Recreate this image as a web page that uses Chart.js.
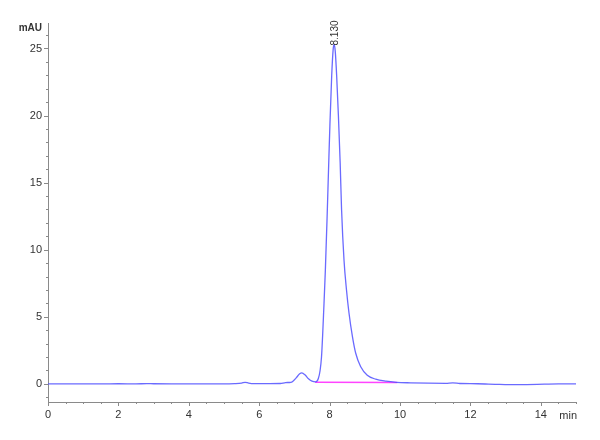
<!DOCTYPE html>
<html>
<head>
<meta charset="utf-8">
<script src="https://cdn.jsdelivr.net/npm/chart.js@4.4.0/dist/chart.umd.min.js"></script>
<style>
html,body{margin:0;padding:0;background:#fff;}
#wrap{width:600px;height:440px;position:relative;}
</style>
</head>
<body>
<div id="wrap"><canvas id="c" width="600" height="440"></canvas></div>
<script>
// ---- data ----
const times = [0, 0.5, 1, 1.5, 2, 2.5, 2.8, 3, 3.5, 4, 4.5, 5, 5.3, 5.5, 5.6, 5.7, 5.85, 6.0, 6.3, 6.6, 6.75, 6.9, 6.95, 7.05, 7.15, 7.21, 7.30, 7.40, 7.50, 7.61, 7.68, 7.73, 7.77, 7.80, 7.83, 7.88, 7.93, 7.97, 8.01, 8.06, 8.10, 8.13, 8.16, 8.20, 8.25, 8.30, 8.34, 8.41, 8.48, 8.55, 8.65, 8.74, 8.88, 9.07, 9.31, 9.6, 9.9, 10.3, 10.8, 11.3, 11.5, 11.7, 12.2, 12.7, 13.1, 13.6, 14.1, 14.5, 15];
const signal = [0, 0, 0, 0, 0.01, 0, 0.02, 0.01, 0, 0, 0, 0, 0.02, 0.06, 0.12, 0.06, 0.02, 0.02, 0.02, 0.03, 0.1, 0.12, 0.18, 0.45, 0.75, 0.82, 0.68, 0.38, 0.2, 0.15, 0.4, 1.0, 2.0, 3.5, 5.3, 8.5, 12.5, 16.0, 19.4, 23.0, 24.9, 25.3, 24.8, 23.0, 20.0, 16.5, 13.0, 9.2, 7.0, 5.3, 3.5, 2.3, 1.3, 0.65, 0.35, 0.2, 0.12, 0.08, 0.05, 0.04, 0.07, 0.03, 0.01, -0.03, -0.06, -0.05, -0.02, 0, 0];
const baselineTimes = [7.59, 9.92];
const baselineValues = [0.12, 0.1];
const peakTimes = [8.13];
const peakValues = [25.3];
const peakLabels = ['8.130'];
const xTickLabels = ['0', '2', '4', '6', '8', '10', '12', '14'];
const yTickLabels = ['0', '5', '10', '15', '20', '25'];
const yUnit = 'mAU';
const xUnit = 'min';

const FONT = "'Liberation Sans Narrow', 'Liberation Sans', Arial, sans-serif";
const AXIS = '#8a8a8a';
const TXT = '#333';

const mainData = times.map((t, i) => ({x: t, y: signal[i]}));
const baseData = baselineTimes.map((t, i) => ({x: t, y: baselineValues[i]}));

const decor = {
  id: 'decor',
  afterDraw(chart) {
    const ctx = chart.ctx;
    const xs = chart.scales.x, ys = chart.scales.y;
    const area = chart.chartArea;
    ctx.save();
    ctx.strokeStyle = AXIS;
    ctx.lineWidth = 1;
    // y tick marks
    ys.ticks.forEach(t => {
      const major = yTickLabels.includes(String(t.value));
      const py = Math.round(ys.getPixelForValue(t.value)) + 0.5;
      ctx.beginPath();
      ctx.moveTo(area.left - (major ? 4 : 2), py);
      ctx.lineTo(area.left, py);
      ctx.stroke();
    });
    // x tick marks
    xs.ticks.forEach(t => {
      const major = xTickLabels.includes(String(t.value));
      const px = Math.round(xs.getPixelForValue(t.value)) + 0.5;
      ctx.beginPath();
      ctx.moveTo(px, area.bottom);
      ctx.lineTo(px, area.bottom + (major ? 4 : 2));
      ctx.stroke();
    });
    // unit labels
    ctx.fillStyle = TXT;
    ctx.font = 'bold 10px ' + FONT;
    ctx.textAlign = 'right';
    ctx.textBaseline = 'middle';
    ctx.fillText(yUnit, area.left - 6, 28);
    ctx.font = '11px ' + FONT;
    ctx.textAlign = 'right';
    ctx.fillText(xUnit, area.right + 1, area.bottom + 14);
    // peak labels
    ctx.font = '10px ' + FONT;
    peakTimes.forEach((pt, i) => {
      const px = xs.getPixelForValue(pt);
      const py = ys.getPixelForValue(peakValues[i]);
      ctx.save();
      ctx.translate(px + 1, py + 1);
      ctx.rotate(-Math.PI / 2);
      ctx.textAlign = 'left';
      ctx.textBaseline = 'middle';
      ctx.fillText(peakLabels[i], 0, 0);
      ctx.restore();
    });
    ctx.restore();
  }
};

new Chart(document.getElementById('c'), {
  type: 'line',
  data: {
    datasets: [
      {
        data: baseData,
        borderColor: '#ff44ff',
        borderWidth: 1.5,
        pointRadius: 0,
        tension: 0,
        order: 2
      },
      {
        data: mainData,
        borderColor: 'rgba(80,80,255,0.85)',
        borderWidth: 1.3,
        pointRadius: 0,
        cubicInterpolationMode: 'monotone',
        order: 1
      }
    ]
  },
  options: {
    responsive: false,
    animation: false,
    devicePixelRatio: 1,
    plugins: {legend: {display: false}, tooltip: {enabled: false}},
    layout: {padding: {top: 23, right: 24, left: 0, bottom: 0}},
    scales: {
      x: {
        type: 'linear',
        min: 0, max: 15,
        grid: {display: true, drawOnChartArea: false, drawTicks: false},
        border: {display: true, color: AXIS, width: 1},
        ticks: {
          stepSize: 0.5,
          autoSkip: false,
          maxRotation: 0,
          includeBounds: false,
          padding: 6,
          color: TXT,
          font: {family: FONT, size: 11},
          callback: v => xTickLabels.includes(String(v)) ? String(v) : ''
        },
        afterFit: s => { s.height = 38; }
      },
      y: {
        type: 'linear',
        min: -1.35, max: 26.9,
        grid: {display: true, drawOnChartArea: false, drawTicks: false},
        border: {display: true, color: AXIS, width: 1},
        ticks: {
          stepSize: 1,
          autoSkip: false,
          includeBounds: false,
          padding: 6,
          color: TXT,
          font: {family: FONT, size: 11},
          callback: v => yTickLabels.includes(String(v)) ? String(v) : ''
        },
        afterFit: s => { s.width = 48; }
      }
    }
  },
  plugins: [decor]
});
</script>
</body>
</html>
